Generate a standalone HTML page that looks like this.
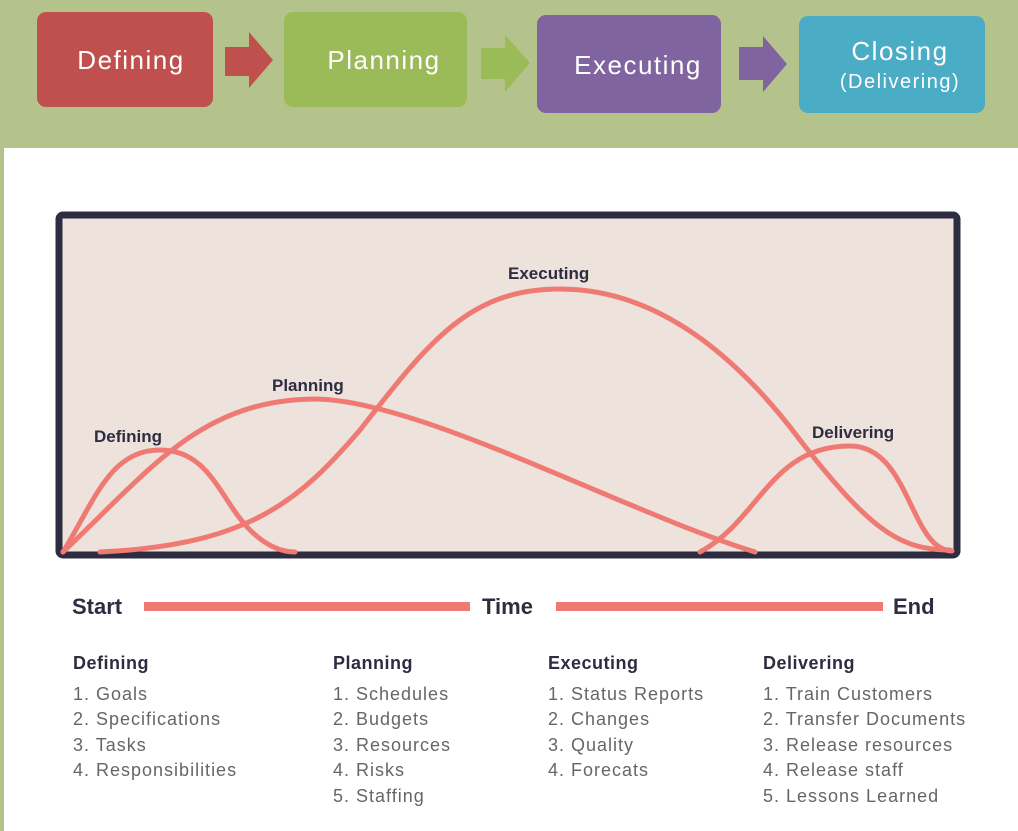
<!DOCTYPE html>
<html><head><meta charset="utf-8"><style>
body{margin:0;width:1018px;height:831px;overflow:hidden;background:#fff}
svg{display:block}
</style></head><body>
<svg width="1018" height="831" viewBox="0 0 1018 831" xmlns="http://www.w3.org/2000/svg" font-family="Liberation Sans, sans-serif">
<rect x="0" y="0" width="1018" height="148" fill="#b4c38b"/>
<rect x="0" y="0" width="4" height="831" fill="#b4c38b"/>
<rect x="37" y="12" width="176" height="95" rx="9" fill="#c0504e"/>
<rect x="284" y="12" width="183" height="95" rx="9" fill="#9bbb58"/>
<rect x="537" y="15" width="184" height="98" rx="9" fill="#8064a0"/>
<rect x="799" y="16" width="186" height="97" rx="9" fill="#4bacc5"/>
<polygon points="225,47 249,47 249,32 273,60 249,88 249,76 225,76" fill="#c0504e"/>
<polygon points="481,48 505,48 505,35 530,63 505,92 505,79 481,79" fill="#9bbb58"/>
<polygon points="739,47 763,47 763,36 787,64 763,92 763,80 739,80" fill="#8064a0"/>
<g fill="#fff" font-size="26" letter-spacing="1.5">
<text x="131" y="69" text-anchor="middle">Defining</text>
<text x="384" y="69" text-anchor="middle">Planning</text>
<text x="638" y="74" text-anchor="middle">Executing</text>
<text x="900" y="60" text-anchor="middle">Closing</text>
<text x="900" y="88" text-anchor="middle" font-size="20">(Delivering)</text>
</g>
<rect x="59" y="215" width="898" height="340" rx="4" fill="#ede3dc" stroke="#2e2c41" stroke-width="7"/>
<g fill="none" stroke="#ef7a74" stroke-width="5" stroke-linecap="round">
<path d="M63,552 C95,500 110,450 160,450 C210,450 220,500 250,530 C265,545 280,552 295,552"/>
<path d="M63,552 C150,470 200,400 315,399 C420,400 620,510 755,552"/>
<path d="M100,552 C250,545 300,500 360,430 C430,340 470,289 560,289 C660,289 740,360 800,440 C870,530 900,550 950,550"/>
<path d="M700,552 C760,520 770,446 850,446 C910,446 910,550 952,551"/>
</g>
<g fill="#2e2c41" font-weight="bold">
<text x="94" y="442" font-size="17">Defining</text>
<text x="272" y="391" font-size="17">Planning</text>
<text x="508" y="279" font-size="17">Executing</text>
<text x="812" y="438" font-size="17">Delivering</text>
<text x="72" y="614" font-size="22">Start</text>
<text x="482" y="614" font-size="22">Time</text>
<text x="893" y="614" font-size="22">End</text>
</g>
<rect x="144" y="602" width="326" height="9" fill="#ef7a74"/>
<rect x="556" y="602" width="327" height="9" fill="#ef7a74"/>
<g font-size="18" fill="#666" letter-spacing="1">
<g font-weight="bold" fill="#2e2c41" letter-spacing="0.5"><text x="73" y="669">Defining</text><text x="333" y="669">Planning</text><text x="548" y="669">Executing</text><text x="763" y="669">Delivering</text></g>
<text x="73" y="700">1. Goals</text><text x="73" y="725">2. Specifications</text><text x="73" y="751">3. Tasks</text><text x="73" y="776">4. Responsibilities</text>
<text x="333" y="700">1. Schedules</text><text x="333" y="725">2. Budgets</text><text x="333" y="751">3. Resources</text><text x="333" y="776">4. Risks</text><text x="333" y="802">5. Staffing</text>
<text x="548" y="700">1. Status Reports</text><text x="548" y="725">2. Changes</text><text x="548" y="751">3. Quality</text><text x="548" y="776">4. Forecats</text>
<text x="763" y="700">1. Train Customers</text><text x="763" y="725">2. Transfer Documents</text><text x="763" y="751">3. Release resources</text><text x="763" y="776">4. Release staff</text><text x="763" y="802">5. Lessons Learned</text>
</g>
</svg>
</body></html>
